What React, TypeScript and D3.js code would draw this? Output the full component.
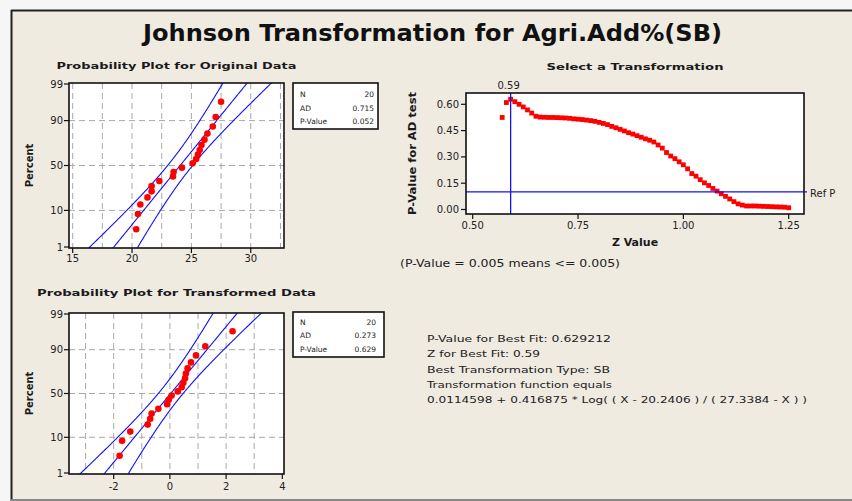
import React from 'react';
import * as d3 from 'd3';

const TITLE = 'Johnson Transformation for Agri.Add%(SB)';
const originalData = [20.35, 20.5, 20.7, 21.3, 21.65, 21.65, 22.3, 23.45, 23.5, 24.2, 25.1, 25.4, 25.55, 25.7, 25.85, 26.1, 26.35, 26.8, 27.05, 27.5];
const transformedData = [-1.79, -1.7, -1.41, -0.79, -0.7, -0.65, -0.41, -0.1, -0.04, 0.06, 0.28, 0.42, 0.48, 0.54, 0.57, 0.63, 0.75, 0.93, 1.26, 2.23];
const percentTicks = [1, 10, 50, 90, 99];
const percentGrid = [10, 50, 90];
const origXTicks = [15, 20, 25, 30];
const origXGrid = [15, 17.5, 20, 22.5, 25, 27.5, 30, 32.5];
const transXTicks = [-2, 0, 2, 4];
const transXGrid = [-3, -2, -1, 0, 1, 2, 3];
const origStats: [string, string][] = [['N', '20'], ['AD', '0.715'], ['P-Value', '0.052']];
const transStats: [string, string][] = [['N', '20'], ['AD', '0.273'], ['P-Value', '0.629']];

const zValues = [
  0.57, 0.58, 0.59, 0.6, 0.61, 0.62, 0.63, 0.64, 0.65, 0.66, 0.67, 0.68, 0.69, 0.7,
  0.71, 0.72, 0.73, 0.74, 0.75, 0.76, 0.77, 0.78, 0.79, 0.8, 0.81, 0.82, 0.83, 0.84,
  0.85, 0.86, 0.87, 0.88, 0.89, 0.9, 0.91, 0.92, 0.93, 0.94, 0.95, 0.96, 0.97, 0.98,
  0.99, 1.0, 1.01, 1.02, 1.03, 1.04, 1.05, 1.06, 1.07, 1.08, 1.09, 1.1, 1.11, 1.12,
  1.13, 1.14, 1.15, 1.16, 1.17, 1.18, 1.19, 1.2, 1.21, 1.22, 1.23, 1.24, 1.25,
];
const pValues = [
  0.525, 0.61, 0.629, 0.615, 0.6, 0.585, 0.568, 0.55, 0.532, 0.527, 0.526, 0.525, 0.525, 0.524,
  0.523, 0.522, 0.52, 0.517, 0.515, 0.513, 0.51, 0.507, 0.503, 0.497, 0.491, 0.484, 0.474, 0.466,
  0.457, 0.448, 0.438, 0.43, 0.421, 0.412, 0.403, 0.395, 0.385, 0.368, 0.35, 0.325, 0.305, 0.29,
  0.272, 0.255, 0.232, 0.205, 0.19, 0.17, 0.152, 0.137, 0.12, 0.105, 0.09, 0.075, 0.06, 0.045,
  0.032, 0.025, 0.02, 0.02, 0.02, 0.019, 0.018, 0.017, 0.016, 0.015, 0.014, 0.013, 0.01,
];
const zTicks = [0.5, 0.75, 1.0, 1.25];
const pTicks = [0, 0.15, 0.3, 0.45, 0.6];
const bestZ = 0.59;
const refP = 0.1;
const infoLines = [
  'P-Value for Best Fit: 0.629212',
  'Z for Best Fit: 0.59',
  'Best Transformation Type: SB',
  'Transformation function equals',
  '0.0114598 + 0.416875 * Log( ( X - 20.2406 ) / ( 27.3384 - X ) )',
];
const infoWidths = [184, 113, 183, 185, 380];

const FONT = '"DejaVu Sans", Verdana, sans-serif';
const BG = '#efebe1';

function normInv(p: number): number {
  const a = [-3.969683028665376e1, 2.209460984245205e2, -2.759285104469687e2, 1.38357751867269e2, -3.066479806614716e1, 2.506628277459239];
  const b = [-5.447609879822406e1, 1.615858368580409e2, -1.556989798598866e2, 6.680131188771972e1, -1.328068155288572e1];
  const c = [-7.784894002430293e-3, -3.223964580411365e-1, -2.400758277161838, -2.549671010228044, 4.374664141464968, 2.938163982698783];
  const d = [7.784695709041462e-3, 3.224671290700398e-1, 2.445134137142996, 3.754408661907416];
  const pl = 0.02425;
  let q: number, r: number;
  if (p < pl) {
    q = Math.sqrt(-2 * Math.log(p));
    return (((((c[0] * q + c[1]) * q + c[2]) * q + c[3]) * q + c[4]) * q + c[5]) / ((((d[0] * q + d[1]) * q + d[2]) * q + d[3]) * q + 1);
  }
  if (p <= 1 - pl) {
    q = p - 0.5;
    r = q * q;
    return ((((((a[0] * r + a[1]) * r + a[2]) * r + a[3]) * r + a[4]) * r + a[5]) * q) / (((((b[0] * r + b[1]) * r + b[2]) * r + b[3]) * r + b[4]) * r + 1);
  }
  q = Math.sqrt(-2 * Math.log(1 - p));
  return -(((((c[0] * q + c[1]) * q + c[2]) * q + c[3]) * q + c[4]) * q + c[5]) / ((((d[0] * q + d[1]) * q + d[2]) * q + d[3]) * q + 1);
}

type PPProps = {
  id: string;
  left: number; top: number; right: number; bottom: number;
  xDomain: [number, number];
  data: number[];
  xTicks: number[];
  xGrid: number[];
  title: string; titleY: number; titleLen: number;
  xLabelY: number;
  legend: { x0: number; y0: number; x1: number; y1: number; rows: number[]; valX: number };
  stats: [string, string][];
};

function ProbPlot(p: PPProps) {
  const { left, top, right, bottom } = p;
  const x = d3.scaleLinear().domain(p.xDomain).range([left, right]);
  const zMin = normInv(0.01), zMax = normInv(0.99);
  const y = d3.scaleLinear().domain([zMin, zMax]).range([bottom - 1, top + 1]);
  const n = p.data.length;
  const sorted = [...p.data].sort((a, b) => a - b);
  const mu = d3.mean(sorted)!;
  const sd = d3.deviation(sorted)!;
  const zs = d3.range(zMin - 0.2, zMax + 0.2, 0.04);
  const curve = (s: number) =>
    d3.line<number>()
      .x((z) => x(mu + z * sd + s * 1.96 * sd * Math.sqrt(1 / n + (z * z) / (2 * n))))
      .y((z) => y(z))(zs) || '';
  const cx = (left + right) / 2;
  const cy = (top + bottom) / 2;
  return (
    <g>
      <defs>
        <clipPath id={p.id}>
          <rect x={left} y={top} width={right - left} height={bottom - top} />
        </clipPath>
      </defs>
      <text x={cx} y={p.titleY} textAnchor="middle" fontFamily={FONT} fontWeight="bold" fontSize={9.5} fill="#1a1a1a"
        textLength={p.titleLen} lengthAdjust="spacingAndGlyphs">{p.title}</text>
      <rect x={left} y={top} width={right - left} height={bottom - top} fill="#fff" />
      <g clipPath={`url(#${p.id})`}>
        {p.xGrid.map((v) => (
          <line key={'gx' + v} x1={x(v)} x2={x(v)} y1={top} y2={bottom} stroke="#a8a8a8" strokeDasharray="6,4" strokeWidth={1} />
        ))}
        {percentGrid.map((v) => (
          <line key={'gy' + v} x1={left} x2={right} y1={y(normInv(v / 100))} y2={y(normInv(v / 100))} stroke="#a8a8a8" strokeDasharray="6,4" strokeWidth={1} />
        ))}
        <path d={curve(0)} fill="none" stroke="#1010ff" strokeWidth={1.1} />
        <path d={curve(-1)} fill="none" stroke="#1010ff" strokeWidth={1.1} />
        <path d={curve(1)} fill="none" stroke="#1010ff" strokeWidth={1.1} />
        {sorted.map((v, i) => (
          <circle key={'pt' + i} cx={x(v)} cy={y(normInv((i + 1 - 0.3) / (n + 0.4)))} r={3.3} fill="#ff0000" />
        ))}
      </g>
      <rect x={left} y={top} width={right - left} height={bottom - top} fill="none" stroke="#111" strokeWidth={1.6} />
      {percentTicks.map((v) => (
        <g key={'yt' + v}>
          <line x1={left - 5} x2={left} y1={y(normInv(v / 100))} y2={y(normInv(v / 100))} stroke="#111" strokeWidth={1.2} />
          <text x={left - 6} y={y(normInv(v / 100)) + 3.5} textAnchor="end" fontFamily={FONT} fontSize={10} fill="#222">{v}</text>
        </g>
      ))}
      {p.xTicks.map((v) => (
        <g key={'xt' + v}>
          <line x1={x(v)} x2={x(v)} y1={bottom} y2={bottom + 5} stroke="#111" strokeWidth={1.2} />
          <text x={x(v)} y={p.xLabelY} textAnchor="middle" fontFamily={FONT} fontSize={10} fill="#222">{v}</text>
        </g>
      ))}
      <text transform={`translate(${33},${cy}) rotate(-90)`} textAnchor="middle" fontFamily={FONT} fontWeight="bold" fontSize={10} fill="#1a1a1a">Percent</text>
      <rect x={p.legend.x0} y={p.legend.y0} width={p.legend.x1 - p.legend.x0} height={p.legend.y1 - p.legend.y0} fill="#fff" stroke="#111" strokeWidth={1.6} />
      {p.stats.map(([k, v], i) => (
        <g key={'st' + k}>
          <text x={p.legend.x0 + 7} y={p.legend.rows[i]} fontFamily={FONT} fontSize={7.5} fill="#222">{k}</text>
          <text x={p.legend.valX} y={p.legend.rows[i]} textAnchor="end" fontFamily={FONT} fontSize={7.5} fill="#222">{v}</text>
        </g>
      ))}
    </g>
  );
}

function ZPlot() {
  const left = 466, top = 93, right = 804, bottom = 214;
  const x = d3.scaleLinear().domain([0.5, 1.25]).range([472.7, 788.7]);
  const y = d3.scaleLinear().domain([0, 0.6]).range([209.5, 104.3]);
  const cx = (left + right) / 2;
  return (
    <g>
      <defs>
        <clipPath id="zclip">
          <rect x={left} y={top} width={right - left} height={bottom - top} />
        </clipPath>
      </defs>
      <text x={cx} y={70} textAnchor="middle" fontFamily={FONT} fontWeight="bold" fontSize={9.5} fill="#1a1a1a"
        textLength={177} lengthAdjust="spacingAndGlyphs">Select a Transformation</text>
      <rect x={left} y={top} width={right - left} height={bottom - top} fill="#fff" />
      <g clipPath="url(#zclip)">
        {zValues.map((z, i) => (
          <rect key={'zp' + i} x={x(z) - 2.4} y={y(pValues[i]) - 2.4} width={4.8} height={4.8} fill="#ff0000" />
        ))}
        <line x1={x(bestZ)} x2={x(bestZ)} y1={top} y2={bottom} stroke="#1010ff" strokeWidth={1.3} />
      </g>
      <line x1={left} x2={right + 3} y1={y(refP)} y2={y(refP)} stroke="#1010ff" strokeWidth={1.3} />
      <rect x={left} y={top} width={right - left} height={bottom - top} fill="none" stroke="#111" strokeWidth={1.6} />
      <text x={x(bestZ) - 2} y={89} textAnchor="middle" fontFamily={FONT} fontSize={10} fill="#222">{bestZ.toFixed(2)}</text>
      <text x={810} y={197} fontFamily={FONT} fontSize={10} fill="#222">Ref P</text>
      {pTicks.map((v) => (
        <g key={'pt' + v}>
          <line x1={left - 5} x2={left} y1={y(v)} y2={y(v)} stroke="#111" strokeWidth={1.2} />
          <text x={left - 7} y={y(v) + 3.5} textAnchor="end" fontFamily={FONT} fontSize={10} fill="#222">{v.toFixed(2)}</text>
        </g>
      ))}
      {zTicks.map((v) => (
        <g key={'zt' + v}>
          <line x1={x(v)} x2={x(v)} y1={bottom} y2={bottom + 5} stroke="#111" strokeWidth={1.2} />
          <text x={x(v)} y={229} textAnchor="middle" fontFamily={FONT} fontSize={10} fill="#222">{v.toFixed(2)}</text>
        </g>
      ))}
      <text x={cx} y={246} textAnchor="middle" fontFamily={FONT} fontWeight="bold" fontSize={11} fill="#1a1a1a">Z Value</text>
      <text transform={`translate(416,${(top + bottom) / 2}) rotate(-90)`} textAnchor="middle" fontFamily={FONT} fontWeight="bold" fontSize={10} fill="#1a1a1a"
        textLength={123} lengthAdjust="spacingAndGlyphs">P-Value for AD test</text>
      <text x={400} y={267} fontFamily={FONT} fontSize={10} fill="#222" textLength={220} lengthAdjust="spacingAndGlyphs">(P-Value = 0.005 means &lt;= 0.005)</text>
    </g>
  );
}

export default function App() {
  const W = 852, H = 501;
  const infoY = [342, 357, 372.5, 388, 403];
  return (
    <svg width={W} height={H} style={{ position: 'absolute', left: 0, top: 0, display: 'block' }}>
      <rect x={0} y={0} width={W} height={H} fill="#f6f6f6" />
      <rect x={11} y={10} width={W} height={H - 10} fill={BG} />
      <line x1={11} x2={W} y1={10.5} y2={10.5} stroke="#222" strokeWidth={2} />
      <line x1={11.5} x2={11.5} y1={10} y2={H} stroke="#222" strokeWidth={2} />
      <line x1={11} x2={W} y1={500} y2={500} stroke="#888" strokeWidth={2} />
      <text x={432.5} y={41} textAnchor="middle" fontFamily={FONT} fontWeight="bold" fontSize={23} fill="#111"
        textLength={579} lengthAdjust="spacingAndGlyphs">{TITLE}</text>
      <ProbPlot id="c1" left={69} top={83} right={284} bottom={248} xDomain={[14.69, 32.8]}
        data={originalData} xTicks={origXTicks} xGrid={origXGrid}
        title="Probability Plot for Original Data" titleY={69} titleLen={240} xLabelY={262}
        legend={{ x0: 293, y0: 83, x1: 378, y1: 129, rows: [96.5, 110.5, 124], valX: 374 }}
        stats={origStats} />
      <ProbPlot id="c2" left={69} top={313} right={284} bottom={474} xDomain={[-3.59, 4.06]}
        data={transformedData} xTicks={transXTicks} xGrid={transXGrid}
        title="Probability Plot for Transformed Data" titleY={296} titleLen={279} xLabelY={490}
        legend={{ x0: 293, y0: 312, x1: 384, y1: 357, rows: [324.5, 337.5, 351.5], valX: 376 }}
        stats={transStats} />
      <ZPlot />
      {infoLines.map((t, i) => (
        <text key={'info' + i} x={427} y={infoY[i]} fontFamily={FONT} fontSize={8.5} fill="#222"
          textLength={infoWidths[i]} lengthAdjust="spacingAndGlyphs">{t}</text>
      ))}
    </svg>
  );
}
